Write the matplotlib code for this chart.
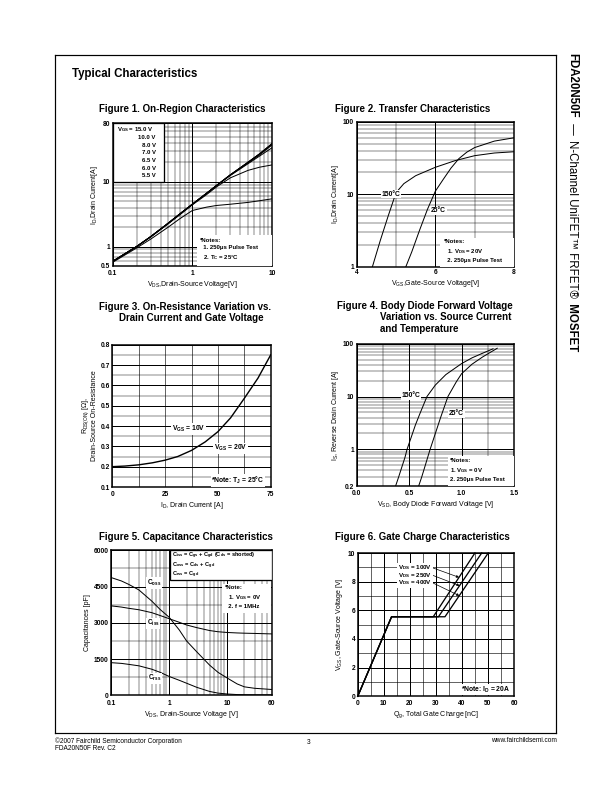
import numpy as np
import matplotlib
matplotlib.use("Agg")
import matplotlib.pyplot as plt
from matplotlib.ticker import NullFormatter
from matplotlib.patches import Rectangle

plt.rcParams['font.family'] = ['Liberation Sans', 'DejaVu Sans']
plt.rcParams['font.weight'] = 'bold'
plt.rcParams['mathtext.fontset'] = 'custom'
plt.rcParams['mathtext.rm'] = 'Liberation Sans'
plt.rcParams['mathtext.default'] = 'regular'

W, H = 612, 792

# ---- Figure 1: on-region characteristics (VDS, ID) ----
vds1 = [0.1, 0.2, 0.3, 0.5, 0.7, 1, 1.5, 2, 3, 5, 7, 10]
id1_15 = [0.59, 1.0, 1.42, 2.3, 3.2, 4.5, 6.6, 8.7, 12.8, 20, 27, 39]
id1_10 = [0.59, 1.0, 1.42, 2.3, 3.2, 4.5, 6.6, 8.7, 12.8, 20, 27, 38.5]
id1_8 = [0.59, 1.0, 1.42, 2.3, 3.2, 4.5, 6.6, 8.7, 12.8, 20, 27, 38]
id1_7 = [0.59, 1.0, 1.42, 2.3, 3.2, 4.5, 6.6, 8.7, 12.7, 19.5, 26, 37]
id1_65 = [0.59, 1.0, 1.42, 2.3, 3.2, 4.5, 6.6, 8.7, 12.5, 19, 25, 33.5]
id1_60 = [0.59, 1.0, 1.40, 2.25, 3.1, 4.4, 6.3, 8.3, 11.5, 15, 16.8, 18.2]
id1_55 = [0.57, 0.95, 1.3, 2.0, 2.7, 3.6, 4.05, 4.3, 4.5, 4.8, 5.1, 5.45]
vgs_labels = ["V$_{GS}$ = 15.0 V", "10.0 V", "8.0 V", "7.0 V", "6.5 V", "6.0 V", "5.5 V"]

# ---- Figure 2: transfer characteristics ----
vgs2_150 = [4.4, 4.6, 4.8, 5.0, 5.2, 5.5, 6.0, 6.5, 7.0, 7.5, 8.0]
id2_150 = [1.0, 2.3, 5.0, 10.5, 14, 18, 23.5, 29, 34, 37, 38.5]
vgs2_25 = [5.25, 5.4, 5.6, 5.8, 6.0, 6.2, 6.4, 6.6, 6.8, 7.0, 7.5, 8.0]
id2_25 = [1.0, 1.6, 3.2, 6.2, 11, 16, 23, 31, 38, 44, 54, 60]

# ---- Figure 3: on-resistance vs drain current ----
id3 = [0, 6, 12.5, 19, 25, 31, 37.5, 44, 50, 56, 62.5, 69, 75]
rds3 = [0.200, 0.203, 0.209, 0.219, 0.232, 0.250, 0.280, 0.322, 0.372, 0.440, 0.536, 0.636, 0.750]

# ---- Figure 4: body diode forward voltage ----
vsd4_150 = [0.37, 0.40, 0.43, 0.46, 0.48, 0.52, 0.56, 0.60, 0.67, 0.75, 0.85, 1.0, 1.1, 1.2, 1.3]
is4_150 = [0.2, 0.3, 0.46, 0.7, 1.0, 1.7, 2.9, 4.6, 10, 16.5, 26, 42, 54, 66, 80]
vsd4_25 = [0.59, 0.62, 0.65, 0.70, 0.75, 0.80, 0.87, 0.95, 1.0, 1.1, 1.2, 1.34]
is4_25 = [0.2, 0.3, 0.47, 1.0, 2.0, 4.0, 10, 19, 27, 41, 56, 82]

# ---- Figure 5: capacitance ----
vds5 = [0.1, 0.15, 0.2, 0.3, 0.5, 0.7, 1, 1.5, 2, 3, 5, 7, 10, 15, 20, 30, 60]
ciss = [3700, 3650, 3600, 3540, 3420, 3300, 3170, 3020, 2910, 2800, 2680, 2630, 2600, 2580, 2570, 2560, 2540]
coss = [4870, 4730, 4590, 4360, 3900, 3550, 3230, 2700, 2250, 1800, 1250, 950, 720, 470, 350, 290, 240]
crss = [1350, 1320, 1280, 1220, 1080, 950, 780, 620, 500, 330, 160, 90, 55, 30, 22, 18, 15]
cap_eqs = ["C$_{iss}$ = C$_{gs}$ + C$_{gd}$ (C$_{ds}$ = shorted)", "C$_{oss}$ = C$_{ds}$ + C$_{gd}$", "C$_{rss}$ = C$_{gd}$"]

# ---- Figure 6: gate charge ----
qg_100 = [0, 13, 29, 45]
qg_250 = [0, 13, 31, 47.6]
qg_400 = [0, 13, 33.5, 50.1]
vgs6 = [0, 5.55, 5.55, 10]
vds6_labels = ["V$_{DS}$ = 100V", "V$_{DS}$ = 250V", "V$_{DS}$ = 400V"]

fig = plt.figure(figsize=(W / 72, H / 72), dpi=72)


def make_ax(l, t, r, b):
    return fig.add_axes([l / W, 1 - b / H, (r - l) / W, (b - t) / H])


def style(ax):
    for s in ax.spines.values():
        s.set_linewidth(1.5)
    ax.tick_params(which='both', length=0, labelsize=6.6, pad=2.5)
    ax.xaxis.set_minor_formatter(NullFormatter())
    ax.yaxis.set_minor_formatter(NullFormatter())
    ax.grid(which='major', color='k', lw=1.0)
    ax.grid(which='minor', color='k', lw=0.45)
    ax.set_axisbelow(True)


def white_box(ax, x, y, w, h, edge=False):
    ax.add_patch(Rectangle((x, y), w, h, transform=ax.transAxes, facecolor='white',
                           edgecolor='k' if edge else 'none', lw=1.3, zorder=3))


lbl = dict(fontsize=7)
note = dict(fontsize=6, zorder=4)
tl = 6.8
wb = dict(boxstyle='square,pad=0.1', fc='white', ec='none')

# page frame and header
frame = fig.add_axes([54.5 / W, 1 - 733 / H, (556 - 54.5) / W, (733 - 54.5) / H])
frame.set_xticks([]); frame.set_yticks([])
frame.patch.set_alpha(0)
for s in frame.spines.values():
    s.set_linewidth(1.2)
fig.text(72 / W, 1 - 74 / H, "Typical Characteristics", fontsize=11.5, va='center')

# side title, pieces placed one after another
renderer = fig.canvas.get_renderer()
y0 = 53
for s, w in [("FDA20N50F", 'bold'), (" — ", 'normal'), ("N-Channel UniFET™ FRFET®", 'normal'), (" MOSFET", 'bold')]:
    t = fig.text(572 / W, 1 - y0 / H, s, rotation=270, ha='center', va='top', fontsize=11.5, fontweight=w)
    y0 += t.get_window_extent(renderer).height + 2

# footer
fig.text(55 / W, 1 - 741 / H, "©2007 Fairchild Semiconductor Corporation", fontsize=6.5, fontweight='normal', va='center')
fig.text(55 / W, 1 - 749 / H, "FDA20N50F Rev. C2", fontsize=6.5, fontweight='normal', va='center')
fig.text(309 / W, 1 - 742 / H, "3", fontsize=6.5, fontweight='normal', va='center', ha='center')
fig.text(557 / W, 1 - 741 / H, "www.fairchildsemi.com", fontsize=6.5, fontweight='normal', va='center', ha='right')

# titles
tsz = 9.8
fig.text(99 / W, 1 - 109 / H, "Figure 1. On-Region Characteristics", fontsize=tsz, va='center')
fig.text(335 / W, 1 - 109 / H, "Figure 2. Transfer Characteristics", fontsize=tsz, va='center')
fig.text(99 / W, 1 - 306.5 / H, "Figure 3. On-Resistance Variation vs.", fontsize=tsz, va='center')
fig.text(119 / W, 1 - 317.5 / H, "Drain Current and Gate Voltage", fontsize=tsz, va='center')
fig.text(337 / W, 1 - 305.5 / H, "Figure 4. Body Diode Forward Voltage", fontsize=tsz, va='center')
fig.text(380 / W, 1 - 317 / H, "Variation vs. Source Current", fontsize=tsz, va='center')
fig.text(380 / W, 1 - 328.5 / H, "and Temperature", fontsize=tsz, va='center')
fig.text(99 / W, 1 - 537.5 / H, "Figure 5. Capacitance Characteristics", fontsize=tsz, va='center')
fig.text(335 / W, 1 - 537.5 / H, "Figure 6. Gate Charge Characteristics", fontsize=tsz, va='center')

# ---------------- Figure 1 ----------------
ax1 = make_ax(112.7, 123.3, 272, 266)
ax1.set_xscale('log'); ax1.set_yscale('log')
ax1.set_xlim(0.1, 10); ax1.set_ylim(0.5, 80)
ax1.set_xticks([0.1, 1, 10]); ax1.set_xticklabels(['0.1', '1', '10'])
ax1.set_yticks([0.5, 1, 10, 80]); ax1.set_yticklabels(['0.5', '1', '10', '80'])
ax1.set_xticks([m * 10.0 ** e for e in (-1, 0) for m in range(2, 10)], minor=True)
ax1.set_yticks([m * 10.0 ** e for e in (-1, 0, 1) for m in range(2, 10) if 0.5 < m * 10.0 ** e < 80], minor=True)
style(ax1)
ax1.tick_params(axis='x', pad=4)
for y in [id1_15, id1_10, id1_8, id1_7, id1_65, id1_60, id1_55]:
    ax1.plot(vds1, y, color='k', lw=1.0, zorder=5)
white_box(ax1, 0, 0.59, 0.324, 0.41, edge=True)
ax1.text(0.03, 0.955, vgs_labels[0], transform=ax1.transAxes, fontsize=6, va='center', zorder=4)
for i, s in enumerate(vgs_labels[1:]):
    ax1.text(0.27, 0.898 - i * 0.053, s, transform=ax1.transAxes, fontsize=6, va='center', ha='right', zorder=4)
white_box(ax1, 0.527, 0.0, 0.47, 0.215)
ax1.text(0.55, 0.195, "*Notes:\n  1. 250μs Pulse Test\n  2. T$_C$ = 25°C", transform=ax1.transAxes,
         va='top', linespacing=1.5, **note)
ax1.set_xlabel("V$_{DS}$,Drain-Source Voltage[V]", labelpad=2, **lbl)
ax1.set_ylabel("I$_D$,Drain Current[A]", labelpad=1, **lbl)

# ---------------- Figure 2 ----------------
ax2 = make_ax(356.7, 121.7, 514, 266.7)
ax2.set_yscale('log')
ax2.set_xlim(4, 8); ax2.set_ylim(1, 100)
ax2.set_xticks([4, 6, 8]); ax2.set_xticks([5, 7], minor=True)
ax2.set_yticks([1, 10, 100]); ax2.set_yticklabels(['1', '10', '100'])
ax2.set_yticks([m * 10.0 ** e for e in (0, 1) for m in range(2, 10)], minor=True)
style(ax2)
ax2.plot(vgs2_150, id2_150, color='k', lw=1.0, zorder=5)
ax2.plot(vgs2_25, id2_25, color='k', lw=1.0, zorder=5)
ax2.text(4.88, 10, "150°C", fontsize=tl, ha='center', va='center', bbox=wb, zorder=6)
ax2.text(6.08, 5.9, "25°C", fontsize=tl, ha='center', va='center', bbox=wb, zorder=6)
white_box(ax2, 0.53, 0.0, 0.468, 0.195)
ax2.text(0.555, 0.19, "*Notes:\n  1. V$_{DS}$ = 20V\n  2. 250μs Pulse Test", transform=ax2.transAxes,
         va='top', linespacing=1.5, **note)
ax2.set_xlabel("V$_{GS}$,Gate-Source Voltage[V]", labelpad=2, **lbl)
ax2.set_ylabel("I$_D$,Drain Current[A]", labelpad=2, **lbl)

# ---------------- Figure 3 ----------------
ax3 = make_ax(112.3, 344.7, 270.7, 487)
ax3.set_xlim(0, 75); ax3.set_ylim(0.1, 0.8)
ax3.set_xticks([0, 25, 50, 75]); ax3.set_xticks([12.5, 37.5, 62.5], minor=True)
ax3.set_yticks(np.arange(1, 9) / 10)
ax3.set_yticks(np.arange(3, 16, 2) / 20, minor=True)
style(ax3)
ax3.tick_params(axis='x', pad=4)
ax3.grid(which='major', axis='x', lw=0.6)
ax3.grid(which='minor', axis='x', lw=0.6)
ax3.plot(id3, rds3, color='k', lw=1.4, zorder=5)
ax3.text(36, 0.385, "V$_{GS}$ = 10V", fontsize=tl, ha='center', va='center', bbox=wb, zorder=6)
ax3.text(56, 0.29, "V$_{GS}$ = 20V", fontsize=tl, ha='center', va='center', bbox=wb, zorder=6)
ax3.text(59.5, 0.131, "*Note: T$_J$ = 25°C", fontsize=tl, ha='center', va='center', bbox=wb, zorder=6)
ax3.set_xlabel("I$_D$, Drain Current [A]", labelpad=2, **lbl)
ax3.set_ylabel("R$_{DS(ON)}$ [Ω],\nDrain-Source On-Resistance", labelpad=2, linespacing=1.1, **lbl)

# ---------------- Figure 4 ----------------
ax4 = make_ax(356.7, 343.7, 514, 486.3)
ax4.set_yscale('log')
ax4.set_xlim(0, 1.5); ax4.set_ylim(0.2, 100)
ax4.set_xticks([0, 0.5, 1.0, 1.5]); ax4.set_xticklabels(['0.0', '0.5', '1.0', '1.5'])
ax4.set_xticks([0.25, 0.75, 1.25], minor=True)
ax4.set_yticks([0.2, 1, 10, 100]); ax4.set_yticklabels(['0.2', '1', '10', '100'])
ax4.set_yticks([m * 10.0 ** e for e in (-1, 0, 1) for m in range(2, 10) if m * 10.0 ** e > 0.2], minor=True)
style(ax4)
ax4.tick_params(axis='x', pad=4)
ax4.plot(vsd4_150, is4_150, color='k', lw=1.0, zorder=5)
ax4.plot(vsd4_25, is4_25, color='k', lw=1.0, zorder=5)
ax4.text(0.515, 10.5, "150°C", fontsize=tl, ha='center', va='center', bbox=wb, zorder=6)
ax4.text(0.95, 4.7, "25°C", fontsize=tl, ha='center', va='center', bbox=wb, zorder=6)
white_box(ax4, 0.58, 0.0, 0.418, 0.21)
ax4.text(0.59, 0.2, "*Notes:\n1. V$_{GS}$ = 0V\n2. 250μs Pulse Test", transform=ax4.transAxes,
         va='top', linespacing=1.5, **note)
ax4.set_xlabel("V$_{SD}$, Body Diode Forward Voltage [V]", labelpad=2, **lbl)
ax4.set_ylabel("I$_S$, Reverse Drain Current [A]", labelpad=2, **lbl)

# ---------------- Figure 5 ----------------
ax5 = make_ax(111.3, 550.3, 272, 695.3)
ax5.set_xscale('log')
ax5.set_xlim(0.1, 60); ax5.set_ylim(0, 6000)
ax5.set_xticks([0.1, 1, 10, 60]); ax5.set_xticklabels(['0.1', '1', '10', '60'])
ax5.set_xticks([m * 10.0 ** e for e in (-1, 0, 1) for m in range(2, 10) if m * 10.0 ** e < 60], minor=True)
ax5.set_yticks([0, 1500, 3000, 4500, 6000])
ax5.set_yticks([750, 2250, 3750, 5250], minor=True)
style(ax5)
ax5.tick_params(axis='x', pad=4.5)
ax5.plot(vds5, ciss, color='k', lw=1.0, zorder=5)
ax5.plot(vds5, coss, color='k', lw=1.0, zorder=5)
ax5.plot(vds5, crss, color='k', lw=1.0, zorder=5)
ax5.text(0.55, 4640, "C$_{oss}$", fontsize=6.5, ha='center', va='center', bbox=wb, zorder=6)
ax5.text(0.53, 2980, "C$_{iss}$", fontsize=6.5, ha='center', va='center', bbox=wb, zorder=6)
ax5.text(0.57, 700, "C$_{rss}$", fontsize=6.5, ha='center', va='center', bbox=wb, zorder=6)
white_box(ax5, 0.365, 0.795, 0.635, 0.205, edge=True)
for i, s in enumerate(cap_eqs):
    ax5.text(0.38, 0.958 - i * 0.064, s, transform=ax5.transAxes, va='center', fontsize=5.6, zorder=4)
white_box(ax5, 0.69, 0.57, 0.305, 0.2)
ax5.text(0.705, 0.76, "*Note:\n  1. V$_{GS}$ = 0V\n  2. f = 1MHz", transform=ax5.transAxes,
         va='top', linespacing=1.5, **note)
ax5.set_xlabel("V$_{DS}$, Drain-Source Voltage [V]", labelpad=2, **lbl)
ax5.set_ylabel("Capacitances [pF]", labelpad=3, **lbl)

# ---------------- Figure 6 ----------------
ax6 = make_ax(357.7, 553, 514, 696.3)
ax6.set_xlim(0, 60); ax6.set_ylim(0, 10)
ax6.set_xticks(range(0, 61, 10)); ax6.set_xticks(range(5, 60, 10), minor=True)
ax6.set_yticks(range(0, 11, 2)); ax6.set_yticks(range(1, 10, 2), minor=True)
style(ax6)
ax6.tick_params(axis='x', pad=4)
ax6.grid(which='minor', lw=0.6)
for q in [qg_100, qg_250, qg_400]:
    ax6.plot(q, vgs6, color='k', lw=1.3, zorder=5, clip_on=False)
tips = [(38.9, 8.3), (39.1, 7.72), (39.0, 7.02)]
for i, s in enumerate(vds6_labels):
    ax6.annotate(s, xy=tips[i], xytext=(22, 8.98 - i * 0.52), fontsize=6.3, ha='center', va='center',
                 bbox=wb, zorder=6,
                 arrowprops=dict(arrowstyle='-|>', color='k', lw=0.7, mutation_scale=5, shrinkA=0, shrinkB=0,
                                 relpos=(1.0, 0.5)))
ax6.text(49, 0.48, "*Note: I$_D$ = 20A", fontsize=tl, ha='center', va='center', bbox=wb, zorder=6)
ax6.set_xlabel("Q$_g$, Total Gate Charge [nC]", labelpad=2, **lbl)
ax6.set_ylabel("V$_{GS}$, Gate-Source Voltage [V]", labelpad=3, **lbl)

fig.savefig("out.png", dpi=72)
